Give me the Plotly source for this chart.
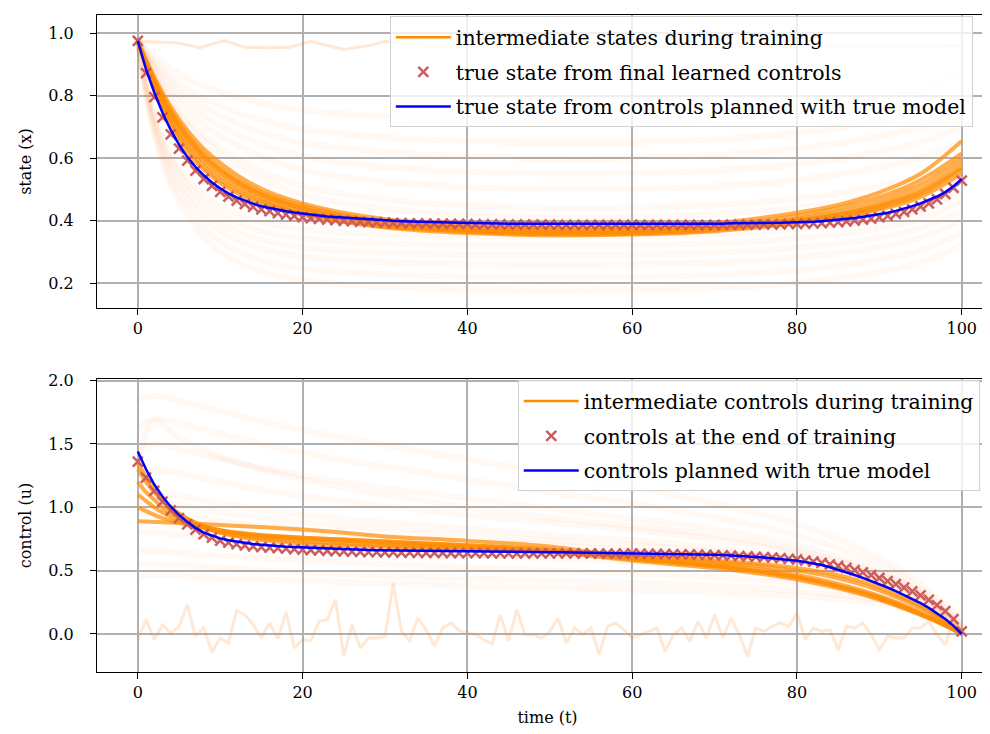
import plotly.graph_objects as go

t = list(range(101))

# true state with controls planned from the true model
state_true = [0.975, 0.885, 0.81, 0.745, 0.69, 0.643, 0.604, 0.572, 0.545, 0.522, 0.503,
              0.487, 0.474, 0.463, 0.454, 0.446, 0.440, 0.435, 0.430, 0.426, 0.422,
              0.419, 0.416, 0.413, 0.411, 0.409, 0.407, 0.405, 0.403, 0.402, 0.400,
              0.399, 0.398, 0.397, 0.396, 0.395, 0.394, 0.394, 0.393, 0.393, 0.392,
              0.392, 0.391, 0.391, 0.391, 0.390, 0.390, 0.390, 0.390, 0.389, 0.389,
              0.389, 0.389, 0.389, 0.388, 0.388, 0.388, 0.388, 0.388, 0.388, 0.388,
              0.388, 0.388, 0.388, 0.388, 0.389, 0.389, 0.389, 0.389, 0.390, 0.390,
              0.390, 0.391, 0.391, 0.391, 0.392, 0.392, 0.393, 0.393, 0.394, 0.394,
              0.395, 0.396, 0.398, 0.400, 0.402, 0.405, 0.408, 0.412, 0.416, 0.420,
              0.425, 0.431, 0.438, 0.446, 0.455, 0.465, 0.477, 0.491, 0.510, 0.533]

# true state from the final learned controls
state_learned = [0.975, 0.872, 0.795, 0.730, 0.676, 0.630, 0.592, 0.560, 0.533, 0.511, 0.492,
                 0.477, 0.464, 0.453, 0.444, 0.436, 0.430, 0.424, 0.419, 0.415, 0.411,
                 0.408, 0.405, 0.403, 0.401, 0.399, 0.398, 0.396, 0.395, 0.394, 0.393,
                 0.392, 0.392, 0.391, 0.391, 0.390, 0.390, 0.390, 0.389, 0.389, 0.389,
                 0.388, 0.388, 0.388, 0.388, 0.387, 0.387, 0.387, 0.387, 0.387, 0.387,
                 0.386, 0.386, 0.386, 0.386, 0.386, 0.386, 0.386, 0.386, 0.386, 0.386,
                 0.386, 0.386, 0.386, 0.386, 0.386, 0.386, 0.386, 0.386, 0.386, 0.386,
                 0.386, 0.387, 0.387, 0.387, 0.387, 0.388, 0.388, 0.388, 0.389, 0.389,
                 0.390, 0.391, 0.392, 0.393, 0.395, 0.397, 0.400, 0.403, 0.406, 0.410,
                 0.415, 0.421, 0.428, 0.436, 0.445, 0.455, 0.468, 0.485, 0.505, 0.528]

control_true = [1.44, 1.30, 1.18, 1.085, 1.005, 0.94, 0.885, 0.838, 0.80, 0.775, 0.755,
                0.74, 0.728, 0.718, 0.71, 0.704, 0.698, 0.693, 0.689, 0.686, 0.683,
                0.68, 0.677, 0.674, 0.672, 0.670, 0.668, 0.666, 0.664, 0.662, 0.661,
                0.660, 0.659, 0.658, 0.657, 0.656, 0.655, 0.654, 0.653, 0.652, 0.651,
                0.651, 0.650, 0.650, 0.649, 0.649, 0.648, 0.648, 0.647, 0.647, 0.646,
                0.646, 0.645, 0.645, 0.644, 0.644, 0.643, 0.642, 0.642, 0.641, 0.640,
                0.639, 0.638, 0.637, 0.636, 0.635, 0.633, 0.632, 0.630, 0.628, 0.626,
                0.623, 0.620, 0.617, 0.613, 0.609, 0.604, 0.598, 0.592, 0.585, 0.578,
                0.568, 0.557, 0.544, 0.527, 0.508, 0.488, 0.466, 0.443, 0.419, 0.394,
                0.367, 0.339, 0.309, 0.277, 0.243, 0.206, 0.165, 0.118, 0.064, 0.0]

control_learned = [1.36, 1.235, 1.13, 1.045, 0.975, 0.915, 0.865, 0.823, 0.788, 0.76, 0.737,
                   0.722, 0.71, 0.70, 0.692, 0.686, 0.681, 0.677, 0.673, 0.669, 0.666,
                   0.663, 0.660, 0.657, 0.655, 0.653, 0.651, 0.649, 0.647, 0.646, 0.645,
                   0.644, 0.643, 0.642, 0.641, 0.641, 0.640, 0.640, 0.639, 0.639, 0.638,
                   0.638, 0.638, 0.637, 0.637, 0.637, 0.637, 0.637, 0.636, 0.636, 0.636,
                   0.636, 0.636, 0.636, 0.636, 0.636, 0.635, 0.635, 0.635, 0.635, 0.634,
                   0.634, 0.633, 0.632, 0.631, 0.630, 0.629, 0.628, 0.626, 0.624, 0.622,
                   0.620, 0.618, 0.615, 0.612, 0.609, 0.606, 0.602, 0.598, 0.593, 0.588,
                   0.580, 0.571, 0.561, 0.550, 0.537, 0.522, 0.505, 0.486, 0.465, 0.442,
                   0.418, 0.393, 0.366, 0.337, 0.305, 0.269, 0.228, 0.180, 0.118, 0.02]

# first (random) controls and the state they give
init_control = [-0.045, 0.113, -0.045, 0.074, 0.008, 0.053, 0.232, -0.018, 0.047, -0.142,
                -0.032, -0.071, 0.184, 0.153, 0.074, -0.026, 0.087, -0.037, 0.174, -0.11,
                -0.045, -0.053, 0.1, 0.113, 0.271, -0.176, 0.074, -0.11, -0.032, -0.032,
                -0.018, 0.40, 0.021, -0.053, 0.126, 0.034, -0.097, 0.047, 0.087, 0.026,
                0.008, -0.005, -0.045, -0.079, 0.153, -0.058, 0.192, -0.005, -0.005, -0.032,
                0.021, 0.126, -0.071, 0.047, -0.005, 0.047, -0.163, 0.061, 0.087, 0.034,
                -0.032, -0.005, 0.021, 0.047, -0.137, -0.005, 0.047, -0.058, 0.1, -0.032,
                0.153, -0.032, 0.126, -0.005, -0.176, 0.047, 0.021, 0.061, 0.087, 0.061,
                0.166, -0.045, 0.047, 0.021, 0.034, -0.124, 0.061, 0.047, 0.087, -0.005,
                -0.124, -0.018, -0.032, -0.032, 0.047, 0.047, 0.1, -0.005, -0.084, 0.1,
                0.008]
init_state_t = [0, 3, 5, 7.5, 10.5, 13, 16, 18.5, 21, 25, 28, 30, 33, 36, 40, 45, 50,
                55, 60, 65, 70, 75, 80, 85, 90, 95, 100]
init_state = [0.975, 0.972, 0.968, 0.953, 0.976, 0.955, 0.953, 0.955, 0.974, 0.948, 0.96,
              0.973, 0.965, 0.958, 0.96, 0.955, 0.962, 0.955, 0.958, 0.955, 0.96, 0.955,
              0.962, 0.955, 0.958, 0.96, 0.96]

# late-training states (the dense orange band)
band_x_t = [0, 1, 2, 3, 4, 6, 8, 10, 13, 16, 20, 25, 30, 40, 50, 60, 70, 80, 85, 90, 95, 100]
band_states = [
    [0.975, 0.915, 0.86, 0.81, 0.765, 0.69, 0.63, 0.585, 0.53, 0.49, 0.455, 0.425, 0.405, 0.385, 0.378, 0.38, 0.392, 0.425, 0.45, 0.49, 0.55, 0.655],
    [0.975, 0.91, 0.85, 0.80, 0.752, 0.675, 0.615, 0.57, 0.517, 0.48, 0.447, 0.418, 0.398, 0.378, 0.37, 0.372, 0.384, 0.415, 0.44, 0.475, 0.53, 0.615],
    [0.975, 0.905, 0.842, 0.788, 0.74, 0.662, 0.60, 0.555, 0.505, 0.47, 0.438, 0.41, 0.39, 0.37, 0.362, 0.364, 0.376, 0.405, 0.428, 0.462, 0.515, 0.60],
    [0.975, 0.90, 0.835, 0.778, 0.728, 0.648, 0.588, 0.543, 0.495, 0.461, 0.43, 0.403, 0.383, 0.364, 0.357, 0.358, 0.37, 0.397, 0.418, 0.45, 0.50, 0.585],
    [0.975, 0.895, 0.827, 0.768, 0.716, 0.635, 0.575, 0.53, 0.485, 0.453, 0.423, 0.397, 0.378, 0.36, 0.353, 0.355, 0.366, 0.392, 0.41, 0.44, 0.485, 0.565],
    [0.975, 0.892, 0.82, 0.758, 0.705, 0.622, 0.563, 0.52, 0.476, 0.447, 0.418, 0.395, 0.38, 0.366, 0.36, 0.362, 0.372, 0.395, 0.41, 0.435, 0.475, 0.55],
    [0.975, 0.905, 0.845, 0.792, 0.745, 0.668, 0.608, 0.562, 0.51, 0.474, 0.44, 0.412, 0.393, 0.376, 0.368, 0.368, 0.378, 0.402, 0.42, 0.448, 0.49, 0.57],
]

# early/mid-training states (faint fan)
fan_x_t = [0, 2, 4, 7, 10, 15, 20, 30, 40, 50, 60, 70, 80, 90, 95, 100]
fan_states = [
    [0.975, 0.673, 0.514, 0.379, 0.299, 0.236, 0.208, 0.188, 0.18, 0.178, 0.18, 0.185, 0.20, 0.235, 0.265, 0.32],
    [0.975, 0.688, 0.537, 0.409, 0.333, 0.273, 0.246, 0.228, 0.22, 0.218, 0.22, 0.226, 0.242, 0.275, 0.305, 0.36],
    [0.975, 0.703, 0.56, 0.439, 0.367, 0.31, 0.285, 0.267, 0.26, 0.258, 0.26, 0.266, 0.282, 0.315, 0.345, 0.40],
    [0.975, 0.715, 0.578, 0.461, 0.393, 0.338, 0.314, 0.297, 0.29, 0.29, 0.291, 0.297, 0.313, 0.345, 0.375, 0.43],
    [0.975, 0.726, 0.595, 0.484, 0.418, 0.366, 0.343, 0.327, 0.32, 0.32, 0.321, 0.327, 0.343, 0.375, 0.405, 0.46],
    [0.975, 0.738, 0.613, 0.506, 0.444, 0.394, 0.372, 0.356, 0.35, 0.35, 0.351, 0.357, 0.373, 0.405, 0.437, 0.49],
    [0.975, 0.862, 0.777, 0.681, 0.613, 0.534, 0.483, 0.438, 0.418, 0.41, 0.411, 0.42, 0.44, 0.48, 0.51, 0.56],
    [0.975, 0.868, 0.788, 0.697, 0.633, 0.558, 0.51, 0.467, 0.448, 0.44, 0.441, 0.45, 0.47, 0.51, 0.54, 0.59],
    [0.975, 0.88, 0.809, 0.728, 0.671, 0.605, 0.562, 0.524, 0.507, 0.50, 0.501, 0.51, 0.53, 0.57, 0.60, 0.65],
    [0.975, 0.89, 0.826, 0.754, 0.703, 0.644, 0.605, 0.571, 0.556, 0.55, 0.551, 0.56, 0.58, 0.62, 0.65, 0.70],
    [0.975, 0.90, 0.844, 0.78, 0.735, 0.683, 0.649, 0.619, 0.606, 0.60, 0.601, 0.61, 0.63, 0.67, 0.70, 0.75],
    [0.975, 0.91, 0.861, 0.806, 0.767, 0.722, 0.692, 0.666, 0.655, 0.65, 0.651, 0.66, 0.68, 0.72, 0.75, 0.80],
    [0.975, 0.924, 0.886, 0.842, 0.812, 0.776, 0.753, 0.733, 0.724, 0.72, 0.721, 0.73, 0.75, 0.79, 0.82, 0.87],
]

# late-training controls (dense band)
band_u_t = [0, 1, 2, 3, 5, 7, 10, 13, 16, 20, 25, 30, 40, 50, 60, 70, 75, 80, 85, 90, 95, 98, 100]
band_controls = [
    [0.89, 0.888, 0.885, 0.882, 0.876, 0.87, 0.86, 0.85, 0.84, 0.825, 0.80, 0.77, 0.735, 0.69, 0.60, 0.54, 0.50, 0.45, 0.38, 0.29, 0.16, 0.07, 0.0],
    [1.30, 1.20, 1.12, 1.05, 0.95, 0.88, 0.82, 0.785, 0.765, 0.75, 0.735, 0.72, 0.69, 0.65, 0.58, 0.52, 0.48, 0.43, 0.36, 0.27, 0.15, 0.065, 0.0],
    [1.10, 1.05, 1.0, 0.96, 0.90, 0.86, 0.82, 0.795, 0.775, 0.76, 0.745, 0.73, 0.70, 0.665, 0.59, 0.535, 0.495, 0.445, 0.375, 0.28, 0.155, 0.068, 0.0],
    [1.0, 0.97, 0.94, 0.915, 0.88, 0.85, 0.815, 0.79, 0.775, 0.76, 0.745, 0.73, 0.70, 0.665, 0.60, 0.55, 0.515, 0.465, 0.395, 0.30, 0.17, 0.075, 0.0],
    [1.35, 1.24, 1.14, 1.06, 0.95, 0.87, 0.80, 0.76, 0.735, 0.715, 0.70, 0.69, 0.67, 0.65, 0.615, 0.57, 0.54, 0.50, 0.44, 0.345, 0.205, 0.095, 0.0],
    [1.2, 1.12, 1.06, 1.0, 0.92, 0.86, 0.80, 0.77, 0.75, 0.73, 0.715, 0.70, 0.68, 0.655, 0.62, 0.58, 0.555, 0.52, 0.465, 0.37, 0.225, 0.105, 0.0],
]

# early/mid-training controls (faint fan)
fan_u_t = [0, 2, 5, 10, 15, 20, 30, 40, 50, 60, 70, 80, 90, 95, 100]
fan_controls = [
    [1.85, 1.88, 1.84, 1.76, 1.68, 1.61, 1.49, 1.38, 1.27, 1.16, 1.03, 0.87, 0.60, 0.40, 0.10],
    [1.62, 1.70, 1.66, 1.58, 1.50, 1.43, 1.32, 1.22, 1.12, 1.03, 0.92, 0.78, 0.55, 0.36, 0.08],
    [1.45, 1.50, 1.46, 1.38, 1.31, 1.25, 1.15, 1.07, 0.99, 0.91, 0.83, 0.70, 0.50, 0.33, 0.06],
    [1.35, 1.68, 1.55, 1.40, 1.30, 1.22, 1.10, 1.00, 0.92, 0.85, 0.78, 0.66, 0.48, 0.32, 0.05],
    [1.25, 1.30, 1.27, 1.20, 1.14, 1.09, 1.01, 0.94, 0.88, 0.82, 0.75, 0.64, 0.46, 0.31, 0.05],
    [1.10, 1.12, 1.09, 1.03, 0.98, 0.94, 0.88, 0.83, 0.78, 0.74, 0.68, 0.59, 0.43, 0.29, 0.04],
    [1.0, 1.05, 1.02, 0.96, 0.92, 0.88, 0.83, 0.78, 0.74, 0.70, 0.65, 0.57, 0.42, 0.28, 0.04],
    [0.95, 0.96, 0.93, 0.89, 0.85, 0.82, 0.77, 0.73, 0.70, 0.66, 0.62, 0.54, 0.40, 0.27, 0.03],
    [0.80, 0.80, 0.78, 0.75, 0.72, 0.70, 0.66, 0.63, 0.60, 0.57, 0.53, 0.47, 0.35, 0.24, 0.03],
    [0.65, 0.66, 0.64, 0.62, 0.60, 0.58, 0.55, 0.52, 0.50, 0.48, 0.45, 0.40, 0.31, 0.21, 0.02],
    [0.55, 0.55, 0.54, 0.52, 0.50, 0.49, 0.46, 0.44, 0.42, 0.40, 0.38, 0.34, 0.27, 0.19, 0.02],
    [0.45, 0.47, 0.46, 0.44, 0.43, 0.42, 0.40, 0.38, 0.37, 0.35, 0.33, 0.30, 0.24, 0.17, 0.02],
]

ORANGE = 'rgb(255,140,0)'
FAINT = 'rgba(255,127,14,0.05)'
INIT = 'rgba(255,127,14,0.18)'
BAND = 'rgba(255,140,0,0.7)'
FONT = 'DejaVu Serif, serif'

fig = go.Figure()


def add_panel(xa, ya, leg, init_t, init_y, fan_t, fan, band_t, band, learned, true, names):
    fig.add_trace(go.Scatter(x=init_t, y=init_y, mode='lines', line=dict(color=INIT, width=3),
                             xaxis=xa, yaxis=ya, showlegend=False, hoverinfo='skip'))
    for ys in fan:
        fig.add_trace(go.Scatter(x=fan_t, y=ys, mode='lines', line=dict(color=FAINT, width=6, shape='spline'),
                                 xaxis=xa, yaxis=ya, showlegend=False, hoverinfo='skip'))
    for ys in band:
        fig.add_trace(go.Scatter(x=band_t, y=ys, mode='lines', line=dict(color=BAND, width=4, shape='spline'),
                                 xaxis=xa, yaxis=ya, showlegend=False, hoverinfo='skip'))
    fig.add_trace(go.Scatter(x=[None], y=[None], mode='lines', line=dict(color=ORANGE, width=2.5),
                             xaxis=xa, yaxis=ya, name=names[0], legend=leg, legendgroup=leg + 'a'))
    fig.add_trace(go.Scatter(x=t, y=learned, mode='markers',
                             marker=dict(symbol='x-thin', size=10, line=dict(color='indianred', width=2.5)),
                             xaxis=xa, yaxis=ya, name=names[1], legend=leg, legendgroup=leg + 'b'))
    fig.add_trace(go.Scatter(x=t, y=true, mode='lines', line=dict(color='blue', width=2.5),
                             xaxis=xa, yaxis=ya, name=names[2], legend=leg, legendgroup=leg + 'c'))


add_panel('x', 'y', 'legend', init_state_t, init_state, fan_x_t, fan_states, band_x_t, band_states,
          state_learned, state_true,
          ['intermediate states during training', 'true state from final learned controls',
           'true state from controls planned with true model'])
add_panel('x2', 'y2', 'legend2', t, init_control, fan_u_t, fan_controls, band_u_t, band_controls,
          control_learned, control_true,
          ['intermediate controls during training', 'controls at the end of training',
           'controls planned with true model'])

axis_style = dict(showline=True, linecolor='black', linewidth=1.2, mirror=True,
                  ticks='outside', ticklen=6, tickcolor='black',
                  showgrid=True, gridcolor='#b0b0b0', gridwidth=1.5, zeroline=False,
                  tickfont=dict(family=FONT, size=16, color='black'))
title_font = dict(family=FONT, size=16, color='black')
legend_style = dict(bgcolor='rgba(255,255,255,0.8)', bordercolor='#d0d0d0', borderwidth=1,
                    font=dict(family=FONT, size=20.5, color='black'), xanchor='left', yanchor='top',
                    traceorder='grouped', tracegroupgap=5, itemwidth=55)

fig.update_layout(
    width=990, height=734, plot_bgcolor='white', paper_bgcolor='white',
    margin=dict(l=89, r=0, t=7, b=70),
    xaxis=dict(domain=[0, 1], range=[-4.95, 104.4], anchor='y', tickvals=[0, 20, 40, 60, 80, 100], **axis_style),
    yaxis=dict(domain=[0.554, 1], range=[0.12, 1.058], anchor='x', tickvals=[0.2, 0.4, 0.6, 0.8, 1.0],
               tickformat='.1f', ticklabelstandoff=13,
               title=dict(text='state (x)', font=title_font, standoff=12), **axis_style),
    xaxis2=dict(domain=[0, 1], range=[-4.95, 104.4], anchor='y2', tickvals=[0, 20, 40, 60, 80, 100],
                title=dict(text='time (t)', font=title_font, standoff=10), **axis_style),
    yaxis2=dict(domain=[0, 0.446], range=[-0.30, 2.013], anchor='x2', tickvals=[0.0, 0.5, 1.0, 1.5, 2.0],
                tickformat='.1f', ticklabelstandoff=13,
                title=dict(text='control (u)', font=title_font, standoff=12), **axis_style),
    legend=dict(x=0.325, y=0.998, **legend_style),
    legend2=dict(x=0.467, y=0.444, **legend_style),
)

fig.write_html("out.html")
